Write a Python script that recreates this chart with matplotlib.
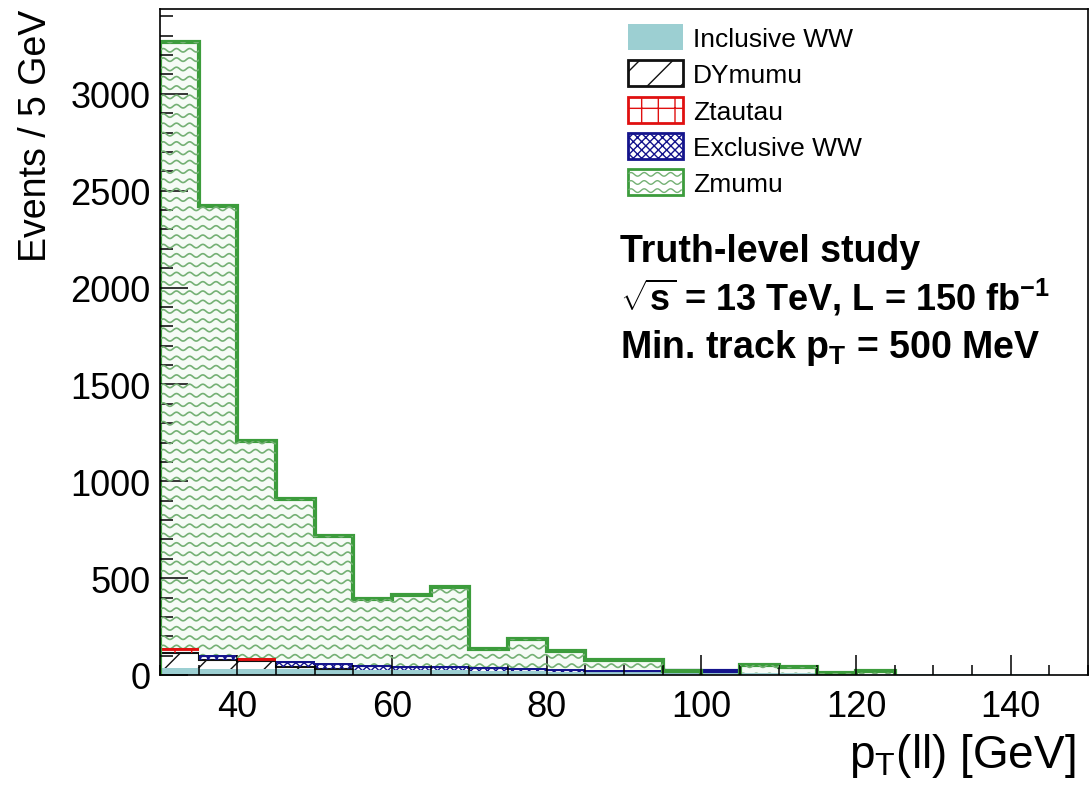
import numpy as np
import matplotlib
matplotlib.use("Agg")
import matplotlib.pyplot as plt
from matplotlib.patches import Patch, Rectangle
from matplotlib.lines import Line2D
from matplotlib.collections import LineCollection
from matplotlib.legend_handler import HandlerBase
from matplotlib.ticker import MultipleLocator
from matplotlib import rcParams

rcParams['font.family'] = ['Liberation Sans', 'DejaVu Sans']
rcParams['mathtext.fontset'] = 'custom'
rcParams['mathtext.rm'] = 'Liberation Sans'
rcParams['mathtext.it'] = 'Liberation Sans:italic'
rcParams['mathtext.bf'] = 'Liberation Sans:bold'
rcParams['hatch.linewidth'] = 1.0

# --- Data (events per 5 GeV bin, 30-150 GeV) ---
edges = np.arange(30, 155, 5)
incl_ww = np.array([35, 33, 32, 30, 28, 26, 25, 24, 22, 20, 18, 16, 15, 13, 12, 9,
                    8, 7, 6, 5, 4, 3, 3, 2])
dy_mumu = np.array([80, 45, 40, 10, 5, 0, 0, 0, 0, 0, 0, 0, 0, 0, 0, 0,
                    0, 0, 0, 0, 0, 0, 0, 0])
z_tautau = np.array([25, 0, 18, 0, 0, 0, 0, 0, 0, 0, 0, 0, 0, 0, 0, 0,
                     0, 0, 0, 0, 0, 0, 0, 0])
excl_ww = np.array([0, 25, 0, 30, 30, 24, 20, 20, 18, 15, 12, 10, 9, 8, 8, 0,
                    0, 0, 0, 0, 0, 0, 0, 0])
z_mumu = np.array([3130, 2317, 1120, 840, 657, 340, 370, 411, 95, 150, 95, 52,
                   51, 2, 0, 43, 32, 5, 15, 0, 0, 0, 0, 0])

labels = ["Inclusive WW", "DYmumu", "Ztautau", "Exclusive WW", "Zmumu"]

# --- Colours ---
c_teal = '#9ccfd2'
c_black = '#111111'
c_red = '#e01010'
c_blue = '#14148c'
c_green = '#3c9c3c'
c_wave = '#74b074'

fig = plt.figure(figsize=(10.89, 8.03), dpi=100)
ax = fig.add_axes([160/1089, 127/803, 928/1089, 666/803])

# stacked bases
b1 = incl_ww
b2 = b1 + dy_mumu
b3 = b2 + z_tautau
b4 = b3 + excl_ww
top = b4 + z_mumu

# Inclusive WW
ax.stairs(incl_ww, edges, baseline=0, fill=True, facecolor=c_teal, linewidth=0)
# DYmumu
ax.stairs(b2, edges, baseline=b1, fill=True, facecolor='none', edgecolor=c_black,
          hatch='/', linewidth=0)
ax.stairs(np.where(dy_mumu > 0, b2, np.nan), edges, baseline=None, color=c_black, lw=1.5)
# Ztautau
ax.stairs(b3, edges, baseline=b2, fill=True, facecolor='none', edgecolor=c_red,
          hatch='+', linewidth=0)
ax.stairs(np.where(z_tautau > 0, b3, np.nan), edges, baseline=None, color=c_red, lw=3.5)
# Exclusive WW
ax.stairs(b4, edges, baseline=b3, fill=True, facecolor='none', edgecolor=c_blue,
          hatch='xxxx', linewidth=0)
ax.stairs(np.where(excl_ww > 0, b4, np.nan), edges, baseline=None, color=c_blue, lw=3)
# Zmumu with wavy fill
zpatch = ax.stairs(top, edges, baseline=b4, fill=True, facecolor='#f6fbf6', linewidth=0)
waves = []
xs = np.linspace(0, 1, 1200)
for y0 in np.arange(0.0, 1.0, 0.014):
    ys = y0 + 0.0026 * np.sin(2 * np.pi * xs / 0.0142)
    waves.append(np.column_stack([xs, ys]))
lc = LineCollection(waves, colors=c_wave, linewidths=1.2, transform=ax.transAxes)
ax.add_collection(lc)
lc.set_clip_path(zpatch)
ax.stairs(np.where(z_mumu > 0, top, np.nan), edges, baseline=0, color=c_green, lw=3)

ax.set_xlim(30, 150)
ax.set_ylim(0, 3438)

# --- Axes styling ---
for sp in ax.spines.values():
    sp.set_linewidth(1.2)
ax.xaxis.set_major_locator(MultipleLocator(20))
ax.xaxis.set_minor_locator(MultipleLocator(5))
ax.yaxis.set_major_locator(MultipleLocator(500))
ax.yaxis.set_minor_locator(MultipleLocator(100))
ax.tick_params(which='both', direction='in', top=False, right=False, width=1.1,
               labelsize=26)
ax.tick_params(axis='y', which='major', length=20, pad=7)
ax.tick_params(axis='y', which='minor', length=9.5)
ax.tick_params(axis='x', which='major', length=14.5, pad=10)
ax.tick_params(axis='x', which='minor', length=7.5)

ax.set_ylabel("Events / 5 GeV", fontsize=27, loc='top')
ax.yaxis.set_label_coords(-0.114, 1.0)
ax.set_xlabel(r"p$_{\mathrm{T}}$(ll) [GeV]", fontsize=33, loc='right')
ax.xaxis.set_label_coords(0.986, -0.084)


# --- Legend ---
class WavyHandler(HandlerBase):
    def create_artists(self, legend, orig_handle, xdescent, ydescent, width,
                       height, fontsize, trans):
        x0, y0 = -xdescent, -ydescent
        arts = [Rectangle((x0, y0), width, height, facecolor='white',
                          edgecolor=c_green, lw=2, transform=trans)]
        xx = np.linspace(x0 + 1, x0 + width - 1, 80)
        for k in range(3):
            yc = y0 + height * (k + 0.6) / 3.2
            yy = yc + 1.3 * np.sin(2 * np.pi * (xx - x0) / 9.5)
            arts.append(Line2D(xx, yy, color=c_wave, lw=1.0, transform=trans))
        return arts


h_incl = Patch(facecolor=c_teal, edgecolor='none')
h_dy = Patch(facecolor='white', edgecolor=c_black, hatch='/', lw=2)
h_ztt = Patch(facecolor='white', edgecolor=c_red, hatch='+', lw=2)
h_excl = Patch(facecolor='white', edgecolor=c_blue, hatch='xxxx', lw=2)
h_zmm = Patch(facecolor='white', edgecolor=c_green)
ax.legend([h_incl, h_dy, h_ztt, h_excl, h_zmm], labels,
          handler_map={h_zmm: WavyHandler()},
          loc='upper left', bbox_to_anchor=(0.504, 0.978), frameon=False,
          fontsize=19, handlelength=2.08, handleheight=1.14, labelspacing=0.36,
          handletextpad=0.38, borderpad=0, borderaxespad=0)

# --- Annotation text ---
ax.text(0.4957, 0.6216, "Truth-level study", transform=ax.transAxes,
        fontsize=27, fontweight='bold', va='baseline', ha='left')
ax.text(0.4957, 0.5495, r"$\sqrt{\mathbf{s}}$ = 13 TeV, L = 150 fb$^{\mathbf{-1}}$",
        transform=ax.transAxes, fontsize=26, fontweight='bold', va='baseline', ha='left')
ax.text(0.4957, 0.4775, r"Min. track p$_{\mathbf{T}}$ = 500 MeV", transform=ax.transAxes,
        fontsize=27, fontweight='bold', va='baseline', ha='left')

fig.savefig("out.png", dpi=100)
